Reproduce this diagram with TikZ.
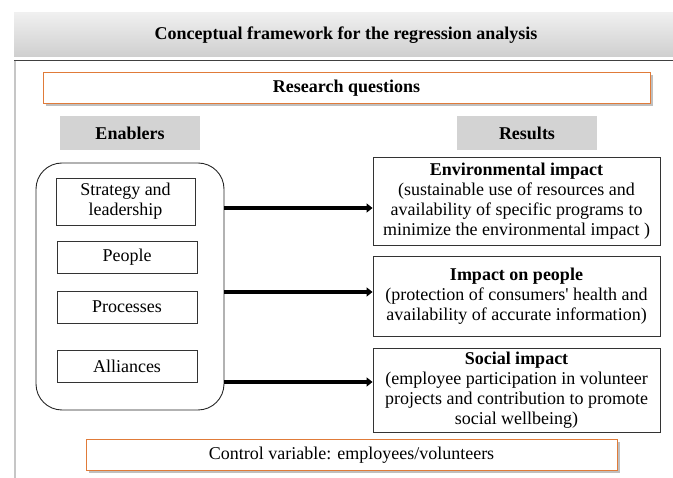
\documentclass[tikz,border=0pt]{standalone}
\usepackage{fontspec}
\setmainfont{Liberation Serif}
\usetikzlibrary{arrows.meta,shadows}
\definecolor{orangeb}{HTML}{E07B39}
\definecolor{graybox}{HTML}{D3D3D3}
\tikzset{
  txt/.style={font=\fontsize{18}{20}\selectfont, align=center, inner sep=0pt},
  orangebox/.style={txt, draw=orangeb, line width=1pt, fill=white, drop shadow={shadow xshift=2.5pt, shadow yshift=-2.5pt, fill=black, opacity=0.25}},
  graylabel/.style={txt, fill=graybox, font=\fontsize{18}{20}\selectfont\bfseries},
  enabler/.style={txt, draw=black!80, line width=0.9pt, fill=white},
  resultbox/.style={txt, draw=black!80, line width=0.9pt, fill=white},
  arr/.style={line width=3.2pt, -{Triangle[length=6pt,width=9pt]}}
}
\begin{document}
\begin{tikzpicture}[x=1pt,y=-1pt]
\useasboundingbox (0,0) rectangle (673,478);
% title bar
\shade[top color=gray!12, bottom color=gray!38] (14,13) rectangle (673,57);
\node[txt, font=\fontsize{18}{20}\selectfont\bfseries] (title) at (346,35) {Conceptual framework for the regression analysis};
% frame
\draw[black!75, line width=1pt] (14,61) -- (673,61);
\draw[gray!45, line width=2pt] (15,61) -- (15,478);
% research questions
\node[orangebox, minimum width=607pt, minimum height=31pt, font=\fontsize{18}{20}\selectfont\bfseries] (rq) at (346.5,88.5) {Research questions};
% gray labels
\node[graylabel, minimum width=140pt, minimum height=34pt] (enab) at (130,133) {Enablers};
\node[graylabel, minimum width=140pt, minimum height=34pt] (res) at (527,133) {Results};
% container
\node[draw=black!85, line width=0.9pt, rounded corners=26pt, minimum width=188pt, minimum height=247pt, inner sep=0pt] (cont) at (130,286.5) {};
% enablers
\node[enabler, minimum width=139pt, minimum height=47pt] (strat) at (125.5,201.5) {Strategy and\\leadership};
\node[enabler, minimum width=140pt, minimum height=32pt] (peop) at (127,257) {People};
\node[enabler, minimum width=140pt, minimum height=32pt] (proc) at (127,307) {Processes};
\node[enabler, minimum width=140pt, minimum height=32pt] (alli) at (127,366) {Alliances};
% results
\node[resultbox, minimum width=287pt, minimum height=88pt] (env) at (516.5,201) {\textbf{Environmental impact}\\(sustainable use of resources and\\availability of specific programs to\\minimize the environmental impact )};
\node[resultbox, minimum width=287pt, minimum height=80pt] (imp) at (516.5,296) {\textbf{Impact on people}\\(protection of consumers\textquotesingle{} health and\\availability of accurate information)};
\node[resultbox, minimum width=287pt, minimum height=84pt] (soc) at (516.5,390) {\textbf{Social impact}\\(employee participation in volunteer\\projects and contribution to promote\\social wellbeing)};
% control
\node[orangebox, minimum width=531pt, minimum height=31pt] (ctrl) at (351.5,455.5) {Control variable: employees/volunteers};
% arrows
\coordinate (a1) at (0,208);
\coordinate (a2) at (0,292);
\coordinate (a3) at (0,382);
\draw[arr] (cont.east |- a1) -- (env.west |- a1);
\draw[arr] (cont.east |- a2) -- (imp.west |- a2);
\draw[arr] (cont.east |- a3) -- (soc.west |- a3);
\end{tikzpicture}
\end{document}
